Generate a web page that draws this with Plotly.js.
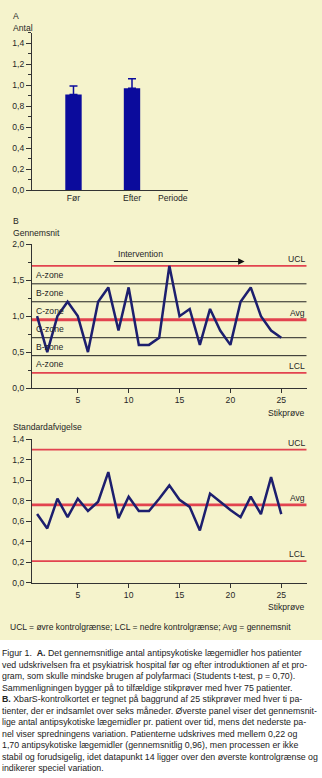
<!DOCTYPE html>
<html><head><meta charset="utf-8">
<script src="https://cdn.plot.ly/plotly-3.0.1.min.js"></script>
<style>
html,body{margin:0;padding:0;background:#ffffff;width:322px;height:778px;overflow:hidden;font-family:"Liberation Sans",Arial,sans-serif;color:#222;}
#chart{position:absolute;left:0;top:0;width:322px;height:640px;}
#footer{position:absolute;left:10px;top:621.5px;width:300px;font-size:8.5px;line-height:11px;white-space:nowrap;}
#caption{position:absolute;left:2px;top:648px;width:320px;font-size:8.8px;line-height:11.5px;}
#caption div{white-space:nowrap;}
</style></head>
<body>
<div id="chart"></div>
<div id="footer">UCL = øvre kontrolgrænse; LCL = nedre kontrolgrænse; Avg = gennemsnit</div>
<div id="caption">
<div>Figur 1.&nbsp; <b>A.</b> Det gennemsnitlige antal antipsykotiske lægemidler hos patienter</div>
<div>ved udskrivelsen fra et psykiatrisk hospital før og efter introduktionen af et pro-</div>
<div>gram, som skulle mindske brugen af polyfarmaci (Students t-test, p = 0,70).</div>
<div>Sammenligningen bygger på to tilfældige stikprøver med hver 75 patienter.</div>
<div><b>B.</b> XbarS-kontrolkortet er tegnet på baggrund af 25 stikprøver med hver ti pa-</div>
<div>tienter, der er indsamlet over seks måneder. Øverste panel viser det gennemsnit-</div>
<div>lige antal antipsykotiske lægemidler pr. patient over tid, mens det nederste pa-</div>
<div>nel viser spredningens variation. Patienterne udskrives med mellem 0,22 og</div>
<div>1,70 antipsykotiske lægemidler (gennemsnitlig 0,96), men processen er ikke</div>
<div>stabil og forudsigelig, idet datapunkt 14 ligger over den øverste kontrolgrænse og</div>
<div>indikerer speciel variation.</div>
</div>
<script>
// ---- data ----
const periods = ["Før", "Efter"];
const antal = [0.91, 0.97];
const antalErr = [0.08, 0.09];

const samples = [1,2,3,4,5,6,7,8,9,10,11,12,13,14,15,16,17,18,19,20,21,22,23,24,25];
const gennemsnit = [1.0,0.5,1.0,1.2,1.0,0.5,1.2,1.4,0.8,1.4,0.6,0.6,0.7,1.7,1.0,1.1,0.6,1.1,0.8,0.6,1.2,1.4,1.0,0.8,0.7];
const meanControl = [1.70, 0.95, 0.21];      // UCL, Avg, LCL
const meanZones = [1.45, 1.20, 0.70, 0.45];  // zone boundaries
const zoneLabels = ["A-zone","B-zone","C-zone","C-zone","B-zone","A-zone"];

const sdValues = [0.67,0.53,0.82,0.64,0.82,0.70,0.79,1.08,0.63,0.84,0.70,0.70,0.82,0.95,0.81,0.74,0.51,0.87,0.79,0.71,0.64,0.84,0.67,1.03,0.67];
const sdControl = [1.30, 0.76, 0.21];        // UCL, Avg, LCL
const controlLabels = ["UCL","Avg","LCL"];

const interventionSpan = [8.4, 21.4];
const interventionLevel = 1.76;

// ---- styling ----
const W = 322, H = 640;
const px = x => x / W, py = y => 1 - y / H;
const BG = "#f5f3cc";
const FONT = '"Liberation Sans", Arial, sans-serif';
const TXT = "#262626";
const NAVY = "#1d1f6e";
const BARC = "#0b0b9c";
const RED = "#e2434f";
const AX = "#333333";

const traces = [
  { type: "bar", x: periods, y: antal, xaxis: "x", yaxis: "y", width: 0.28,
    marker: { color: BARC },
    error_y: { type: "data", symmetric: false, array: antalErr, arrayminus: [0, 0],
               color: BARC, thickness: 1.5, width: 4 },
    hoverinfo: "skip" },
  { type: "scatter", mode: "lines", x: samples, y: gennemsnit, xaxis: "x2", yaxis: "y2",
    line: { color: NAVY, width: 2.5 }, hoverinfo: "skip" },
  { type: "scatter", mode: "lines", x: samples, y: sdValues, xaxis: "x3", yaxis: "y3",
    line: { color: NAVY, width: 2.5 }, hoverinfo: "skip" }
];

const shapes = [];
const ctrlWidths = [1.8, 2.8, 1.8];
meanControl.forEach((v, i) => shapes.push({ type: "line", layer: "below", xref: "x2", yref: "y2",
  x0: 0.5, x1: 27.5, y0: v, y1: v, line: { color: RED, width: ctrlWidths[i] } }));
meanZones.forEach(v => shapes.push({ type: "line", layer: "below", xref: "x2", yref: "y2",
  x0: 0.5, x1: 27.5, y0: v, y1: v, line: { color: "#222", width: 1 } }));
sdControl.forEach((v, i) => shapes.push({ type: "line", layer: "below", xref: "x3", yref: "y3",
  x0: 0.5, x1: 27.5, y0: v, y1: v, line: { color: RED, width: ctrlWidths[i] } }));

const annotations = [];
const txt = (x, y, text, xanchor, extra) => Object.assign({ xref: "paper", yref: "paper",
  x: px(x), y: py(y), text, xanchor, yanchor: "middle", showarrow: false,
  font: { family: FONT, size: 8.6, color: TXT } }, extra || {});

annotations.push(txt(11, 15.7, "A", "left"));
annotations.push(txt(11, 27.7, "Antal", "left"));
annotations.push(txt(173, 197.5, "Periode", "center"));
annotations.push(txt(11, 221, "B", "left"));
annotations.push(txt(11, 232.7, "Gennemsnit", "left"));
annotations.push(txt(307, 412.5, "Stikprøve", "right"));
annotations.push(txt(11, 426.7, "Standardafvigelse", "left"));
annotations.push(txt(307, 606.7, "Stikprøve", "right"));

// zone labels in the middle of each zone
const bounds = [meanControl[0], meanZones[0], meanZones[1], meanControl[1], meanZones[2], meanZones[3], meanControl[2]];
zoneLabels.forEach((z, i) => annotations.push({ xref: "paper", yref: "y2", x: px(34), y: (bounds[i] + bounds[i + 1]) / 2,
  text: z, xanchor: "left", yanchor: "middle", showarrow: false, font: { family: FONT, size: 8.6, color: TXT } }));

controlLabels.forEach((c, i) => {
  annotations.push({ xref: "x2", yref: "y2", x: 27.5, y: meanControl[i], text: c, xanchor: "right", yanchor: "bottom",
    yshift: 0, showarrow: false, font: { family: FONT, size: 8.6, color: TXT } });
  annotations.push({ xref: "x3", yref: "y3", x: 27.5, y: sdControl[i], text: c, xanchor: "right", yanchor: "bottom",
    yshift: 0, showarrow: false, font: { family: FONT, size: 8.6, color: TXT } });
});

annotations.push({ xref: "x2", yref: "y2", x: interventionSpan[0] + 0.4, y: 1.87, text: "Intervention",
  xanchor: "left", yanchor: "middle", showarrow: false, font: { family: FONT, size: 8.6, color: TXT } });
annotations.push({ xref: "x2", yref: "y2", x: interventionSpan[1], y: interventionLevel, axref: "x2", ayref: "y2",
  ax: interventionSpan[0], ay: interventionLevel, text: "", showarrow: true, arrowhead: 2, arrowsize: 1.3,
  arrowwidth: 1, arrowcolor: "#111", standoff: 0, startstandoff: 0 });

const tickFont = { family: FONT, size: 8.6, color: TXT };
const baseAxis = { showline: true, linecolor: AX, linewidth: 1, showgrid: false, zeroline: false,
  tickcolor: AX, tickfont: tickFont, fixedrange: true };

const layout = {
  width: W, height: H, margin: { l: 0, r: 0, t: 0, b: 0 },
  paper_bgcolor: BG, plot_bgcolor: BG, showlegend: false, separators: ",.",
  font: { family: FONT, size: 8.6, color: TXT },
  xaxis: Object.assign({}, baseAxis, { domain: [px(32), px(188)], anchor: "y", type: "category",
    range: [-0.709, 1.957], ticks: "" }),
  yaxis: Object.assign({}, baseAxis, { domain: [py(190), py(32.5)], anchor: "x", range: [0, 1.5],
    tick0: 0, dtick: 0.2, tickformat: ".1f", ticks: "outside", ticklen: 5,
    minor: { dtick: 0.1, ticks: "outside", ticklen: 3, tickcolor: AX, showgrid: false } }),
  xaxis2: Object.assign({}, baseAxis, { domain: [px(32), px(306.7)], anchor: "y2", range: [0.5, 27.5],
    tickvals: [5, 10, 15, 20, 25], ticks: "outside", ticklen: 4 }),
  yaxis2: Object.assign({}, baseAxis, { domain: [py(388), py(244.3)], anchor: "x2", range: [0, 2],
    tick0: 0, dtick: 0.5, tickformat: ".1f", ticks: "outside", ticklen: 5,
    minor: { dtick: 0.25, ticks: "outside", ticklen: 3, tickcolor: AX, showgrid: false } }),
  xaxis3: Object.assign({}, baseAxis, { domain: [px(32), px(306.7)], anchor: "y3", range: [0.5, 27.5],
    tickvals: [5, 10, 15, 20, 25], ticks: "outside", ticklen: 4 }),
  yaxis3: Object.assign({}, baseAxis, { domain: [py(582.7), py(439.3)], anchor: "x3", range: [0, 1.4],
    tick0: 0, dtick: 0.2, tickformat: ".1f", ticks: "outside", ticklen: 5 }),
  shapes, annotations
};

Plotly.newPlot("chart", traces, layout, { staticPlot: true, displayModeBar: false });
</script>
</body></html>
